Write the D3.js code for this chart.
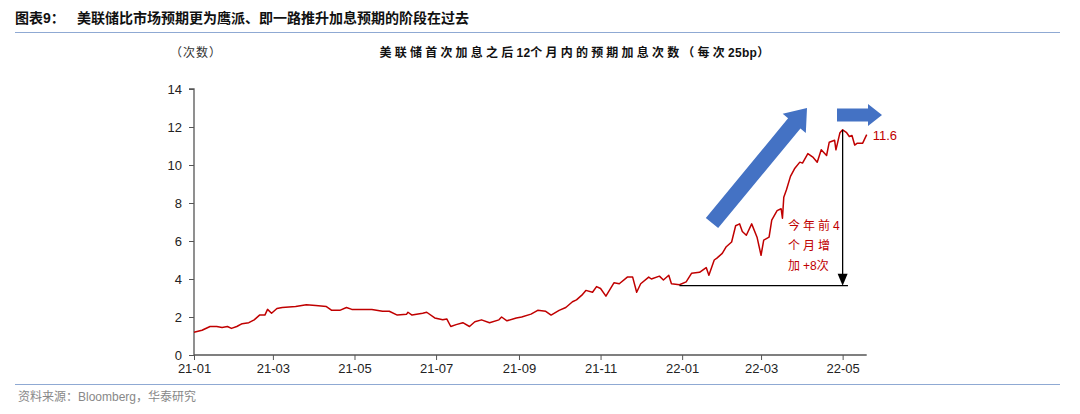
<!DOCTYPE html>
<html><head><meta charset="utf-8">
<script src="https://cdn.jsdelivr.net/npm/d3@7/dist/d3.min.js"></script>
<style>body{margin:0;background:#fff;}svg{display:block;font-family:"Liberation Sans",Arial,"Noto Sans CJK SC",sans-serif;}</style>
</head><body><svg id="c" width="1080" height="414"></svg>
<script>
const titleText = "图表9：";
const titleMain = "美联储比市场预期更为鹰派、即一路推升加息预期的阶段在过去";
const chartTitleParts = ["美联储首次加息之后", "12", "个月内的预期加息次数（每次", "25bp", "）"];
const unitText = "（次数）";
const sourceText = "资料来源：Bloomberg，华泰研究";
const noteLines = [["今年前", "4"], ["个月增", ""], ["加", "+8", "次"]];
const lastLabel = "11.6";
const yTicks = [0, 2, 4, 6, 8, 10, 12, 14];
const xTicks = ["2021-01-01","2021-03-01","2021-05-01","2021-07-01","2021-09-01","2021-11-01","2022-01-01","2022-03-01","2022-05-01"];
const xDomain = ["2021-01-01", "2022-05-19"];

const dates = [
"2021-01-01","2021-01-07","2021-01-13","2021-01-18","2021-01-22","2021-01-26","2021-01-29","2021-02-02","2021-02-06","2021-02-11",
"2021-02-15","2021-02-19","2021-02-23","2021-02-25","2021-02-28","2021-03-04","2021-03-08","2021-03-18","2021-03-26","2021-04-02",
"2021-04-10","2021-04-14","2021-04-20","2021-04-25","2021-04-29","2021-05-07","2021-05-14","2021-05-22","2021-05-27","2021-06-02",
"2021-06-09","2021-06-10","2021-06-13","2021-06-21","2021-06-24","2021-06-30","2021-07-06","2021-07-09","2021-07-12","2021-07-16",
"2021-07-21","2021-07-26","2021-07-30","2021-08-04","2021-08-10","2021-08-17","2021-08-19","2021-08-23","2021-08-30","2021-09-03",
"2021-09-10","2021-09-15","2021-09-21","2021-09-25","2021-10-01","2021-10-06","2021-10-11","2021-10-14","2021-10-18","2021-10-21",
"2021-10-26","2021-10-29","2021-11-01","2021-11-05","2021-11-11","2021-11-15","2021-11-21","2021-11-25","2021-11-28","2021-12-01",
"2021-12-07","2021-12-09","2021-12-15","2021-12-18","2021-12-22","2021-12-24","2021-12-30","2022-01-04","2022-01-08","2022-01-14",
"2022-01-19","2022-01-21","2022-01-25","2022-01-27","2022-01-31","2022-02-03","2022-02-07","2022-02-10","2022-02-13","2022-02-15",
"2022-02-18","2022-02-22","2022-02-26","2022-03-01","2022-03-03","2022-03-07","2022-03-09","2022-03-13","2022-03-16","2022-03-17",
"2022-03-18","2022-03-20","2022-03-23","2022-03-26","2022-03-30","2022-04-01","2022-04-05","2022-04-09","2022-04-12","2022-04-15",
"2022-04-19","2022-04-21","2022-04-25","2022-04-26","2022-04-29","2022-05-01","2022-05-04","2022-05-06","2022-05-08","2022-05-10",
"2022-05-12","2022-05-16","2022-05-19"];
const values = [
1.2,1.3,1.5,1.5,1.45,1.5,1.4,1.5,1.65,1.7,
1.85,2.1,2.1,2.4,2.2,2.45,2.5,2.55,2.65,2.6,
2.55,2.35,2.35,2.5,2.4,2.4,2.4,2.3,2.3,2.1,
2.15,2.25,2.1,2.2,2.25,1.95,1.85,1.9,1.5,1.6,
1.7,1.5,1.75,1.85,1.7,1.85,2.0,1.8,1.95,2.0,
2.15,2.35,2.3,2.1,2.35,2.5,2.8,2.9,3.15,3.4,
3.3,3.6,3.5,3.1,3.8,3.75,4.1,4.1,3.3,3.75,
4.1,4.0,4.15,3.95,4.2,3.75,3.7,3.85,4.3,4.35,
4.6,4.2,5.0,5.1,5.35,5.7,5.95,6.8,6.9,6.5,
6.3,6.9,6.2,5.25,6.05,6.2,7.1,7.6,7.7,7.2,
8.3,8.7,9.4,9.8,10.15,10.1,10.6,10.4,10.15,10.8,
10.5,11.2,11.3,10.8,11.7,11.85,11.7,11.5,11.55,11.05,
11.15,11.15,11.6];

// annotation anchors (data coordinates)
const baseLine = {from: "2021-12-30", to: "2022-05-05", value: 3.65};
const riseLine = {date: "2022-05-01", top: 11.85, bottom: 3.65};

const parse = d3.timeParse("%Y-%m-%d");
const fmt = d3.timeFormat("%y-%m");
const data = dates.map((d, i) => ({date: parse(d), value: values[i]}));

const svg = d3.select("#c");
const x = d3.scaleTime().domain(xDomain.map(parse)).range([194, 866.7]);
const y = d3.scaleLinear().domain([0, 14]).range([355, 89]);
const isCJK = s => /[\u3000-\u9fff\uff00-\uffef]/.test(s);

// header
svg.append("text").attr("x", 15).attr("y", 23).attr("font-size", 14).attr("font-weight", "bold")
  .attr("fill", "#111").text(titleText);
svg.append("text").attr("x", 77).attr("y", 23).attr("font-size", 14).attr("font-weight", "bold")
  .attr("fill", "#111").text(titleMain);
svg.append("line").attr("x1", 15).attr("x2", 1060).attr("y1", 32.5).attr("y2", 32.5)
  .attr("stroke", "#8fa9d3").attr("stroke-width", 1.2);

svg.append("text").attr("x", 170).attr("y", 57).attr("font-size", 12).attr("fill", "#333")
  .attr("letter-spacing", 1).text(unitText);
const ct = svg.append("text").attr("x", 576).attr("y", 57).attr("font-size", 12).attr("font-weight", "bold")
  .attr("text-anchor", "middle").attr("fill", "#111");
chartTitleParts.forEach(p => ct.append("tspan").attr("letter-spacing", isCJK(p) ? 3.2 : 0.3).text(p));

// axes
const yAxis = d3.axisLeft(y).tickValues(yTicks).tickSize(5).tickPadding(7).tickFormat(d3.format("d"));
const gy = svg.append("g").attr("transform", "translate(194,0)").call(yAxis);
gy.select(".domain").attr("stroke", "#555").attr("stroke-width", 1.3).attr("d", "M-5," + y(14) + "H0V" + y(0));
gy.selectAll(".tick line").attr("stroke", "#555");
gy.selectAll(".tick text").attr("font-size", 13).attr("fill", "#222").attr("font-family", "Liberation Sans, Arial, sans-serif");

const xAxis = d3.axisBottom(x).tickValues(xTicks.map(parse)).tickSize(5).tickPadding(4).tickFormat(fmt);
const gx = svg.append("g").attr("transform", "translate(0," + y(0) + ")").call(xAxis);
gx.select(".domain").attr("stroke", "#555").attr("stroke-width", 1.3).attr("d", "M" + x.range()[0] + ",0H" + x.range()[1]);
gx.selectAll(".tick line").attr("stroke", "#555");
gx.selectAll(".tick text").attr("font-size", 13).attr("fill", "#222").attr("font-family", "Liberation Sans, Arial, sans-serif");

// line
const line = d3.line().x(d => x(d.date)).y(d => y(d.value));
svg.append("path").datum(data).attr("d", line).attr("fill", "none")
  .attr("stroke", "#c00000").attr("stroke-width", 1.5).attr("stroke-linejoin", "round");

// black annotation lines
svg.append("line").attr("x1", x(parse(baseLine.from))).attr("x2", x(parse(baseLine.to)))
  .attr("y1", y(baseLine.value)).attr("y2", y(baseLine.value)).attr("stroke", "#000").attr("stroke-width", 1.3);
const vx = x(parse(riseLine.date));
svg.append("line").attr("x1", vx).attr("x2", vx).attr("y1", y(riseLine.top)).attr("y2", y(riseLine.bottom) - 10)
  .attr("stroke", "#000").attr("stroke-width", 1.3);
svg.append("path").attr("d", `M${vx-5},${y(riseLine.bottom)-12}L${vx+5},${y(riseLine.bottom)-12}L${vx},${y(riseLine.bottom)}Z`).attr("fill", "#000");

// note text
noteLines.forEach((parts, i) => {
  const t = svg.append("text").attr("x", 788).attr("y", 230 + i * 20).attr("font-size", 12).attr("fill", "#c00000");
  parts.forEach(p => {
    if (!p) return;
    t.append("tspan").attr("letter-spacing", isCJK(p) ? 3 : 0).text(p);
  });
});
const last = data[data.length - 1];
svg.append("text").attr("x", x(last.date) + 6).attr("y", y(last.value) + 5).attr("font-size", 13)
  .attr("fill", "#c00000").text(lastLabel);

// blue arrows
function blockArrow(x0, y0, x1, y1, shaft, head, headLen) {
  const dx = x1 - x0, dy = y1 - y0, L = Math.hypot(dx, dy);
  const ux = dx / L, uy = dy / L, px = -uy, py = ux;
  const bx = x1 - ux * headLen, by = y1 - uy * headLen;
  const pts = [
    [x0 + px * shaft / 2, y0 + py * shaft / 2],
    [bx + px * shaft / 2, by + py * shaft / 2],
    [bx + px * head / 2, by + py * head / 2],
    [x1, y1],
    [bx - px * head / 2, by - py * head / 2],
    [bx - px * shaft / 2, by - py * shaft / 2],
    [x0 - px * shaft / 2, y0 - py * shaft / 2]
  ];
  svg.append("path").attr("d", "M" + pts.map(p => p.join(",")).join("L") + "Z").attr("fill", "#4472c4");
}
blockArrow(712, 223, 807, 108, 16, 30, 20);
blockArrow(837, 115, 882, 115, 13, 22, 14);

// footer
svg.append("line").attr("x1", 15).attr("x2", 1060).attr("y1", 384.5).attr("y2", 384.5)
  .attr("stroke", "#8fa9d3").attr("stroke-width", 1.2);
svg.append("text").attr("x", 18).attr("y", 401).attr("font-size", 12).attr("fill", "#888").text(sourceText);
</script></body></html>
